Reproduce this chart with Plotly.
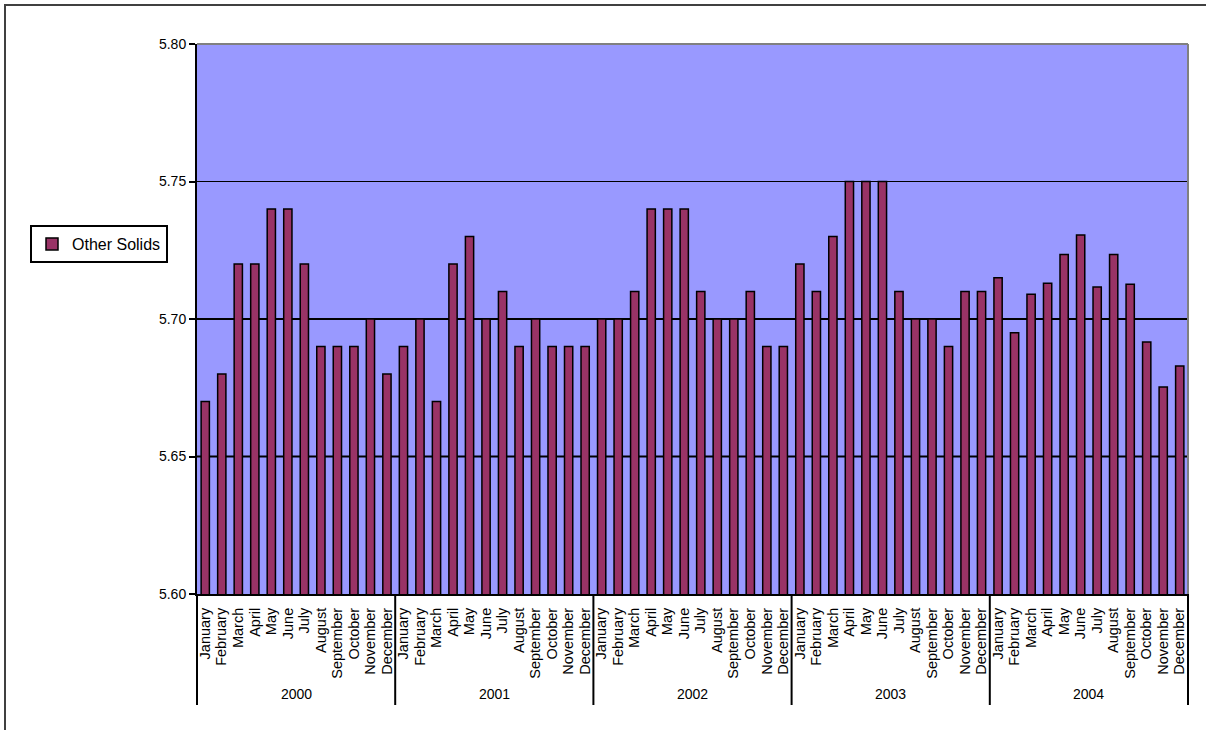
import plotly.graph_objects as go

years = ["2000", "2001", "2002", "2003", "2004"]
months = ["January", "February", "March", "April", "May", "June", "July",
          "August", "September", "October", "November", "December"]

values_2000 = [5.67, 5.68, 5.72, 5.72, 5.74, 5.74, 5.72, 5.69, 5.69, 5.69, 5.70, 5.68]
values_2001 = [5.69, 5.70, 5.67, 5.72, 5.73, 5.70, 5.71, 5.69, 5.70, 5.69, 5.69, 5.69]
values_2002 = [5.70, 5.70, 5.71, 5.74, 5.74, 5.74, 5.71, 5.70, 5.70, 5.71, 5.69, 5.69]
values_2003 = [5.72, 5.71, 5.73, 5.75, 5.75, 5.75, 5.71, 5.70, 5.70, 5.69, 5.71, 5.71]
values_2004 = [5.715, 5.695, 5.709, 5.713, 5.7235, 5.7305, 5.7116, 5.7235, 5.7126, 5.6916, 5.6753, 5.6829]

y_ticks = [5.60, 5.65, 5.70, 5.75, 5.80]
bold_grid = [5.65, 5.70]

all_values = values_2000 + values_2001 + values_2002 + values_2003 + values_2004
x_keys = [f"{m} {y}" for y in years for m in months]
x_text = months * len(years)

fig = go.Figure()
fig.add_trace(go.Bar(
    x=x_keys,
    y=all_values,
    name="Other Solids",
    marker=dict(color="#993366", line=dict(color="black", width=1.5)),
    showlegend=True,
))

W, H = 1206, 730
L, R, T, B = 197, 18, 44, 136
pw, ph = W - L - R, H - T - B

def px_x(p):
    return (p - L) / pw

def px_y(p):
    return (H - B - p) / ph

n_years = len(years)
n_months = len(months)

annotations = []
shapes = []
for i, yr in enumerate(years):
    annotations.append(dict(
        x=i * n_months + (n_months - 1) / 2, xref="x",
        y=px_y(694), yref="paper",
        text=yr, showarrow=False,
        font=dict(size=14, color="black"),
        xanchor="center", yanchor="middle",
    ))
for i in range(n_years + 1):
    shapes.append(dict(
        type="line", xref="paper", yref="paper",
        x0=i / n_years, x1=i / n_years, y0=0, y1=px_y(705),
        line=dict(color="black", width=2), layer="above",
    ))
for g in bold_grid:
    shapes.append(dict(
        type="line", xref="paper", yref="y", x0=0, x1=1, y0=g, y1=g,
        line=dict(color="black", width=2), layer="below",
    ))
shapes += [
    dict(type="line", xref="paper", yref="paper", x0=0, x1=1, y0=1, y1=1,
         line=dict(color="#808080", width=2), layer="above"),
    dict(type="line", xref="paper", yref="paper", x0=1, x1=1, y0=0, y1=1,
         line=dict(color="#808080", width=2), layer="above"),
    dict(type="rect", xref="paper", yref="paper",
         x0=px_x(5), x1=px_x(1215), y0=px_y(740), y1=px_y(5),
         line=dict(color="#404040", width=2), fillcolor="rgba(0,0,0,0)",
         layer="below"),
]

fig.update_layout(
    width=W, height=H,
    margin=dict(l=L, r=R, t=T, b=B),
    paper_bgcolor="white",
    plot_bgcolor="#9999FF",
    bargap=0.5,
    font=dict(family="Liberation Sans, Arial, sans-serif", size=13, color="black"),
    showlegend=True,
    legend=dict(
        x=px_x(30), y=px_y(244), xanchor="left", yanchor="middle",
        bgcolor="white", bordercolor="black", borderwidth=2,
        font=dict(size=16, color="black"),
    ),
    xaxis=dict(
        type="category",
        tickvals=x_keys, ticktext=x_text,
        showline=True, linecolor="black", linewidth=2,
        tickangle=-90, ticks="",
        ticklabelstandoff=6,
        showgrid=False, automargin=False,
        tickfont=dict(size=14.5),
    ),
    yaxis=dict(
        range=[5.60, 5.80],
        tickvals=y_ticks,
        tickformat=".2f",
        showline=True, linecolor="black", linewidth=2,
        ticks="outside", ticklen=6, tickwidth=2, tickcolor="black",
        showgrid=True, gridcolor="black", gridwidth=1,
        zeroline=False, automargin=False,
        tickfont=dict(size=14),
    ),
    annotations=annotations,
    shapes=shapes,
)

fig.write_html(
    "out.html",
    config={"displayModeBar": False},
    post_script="document.body.style.margin='0';document.body.style.overflow='hidden';",
)
